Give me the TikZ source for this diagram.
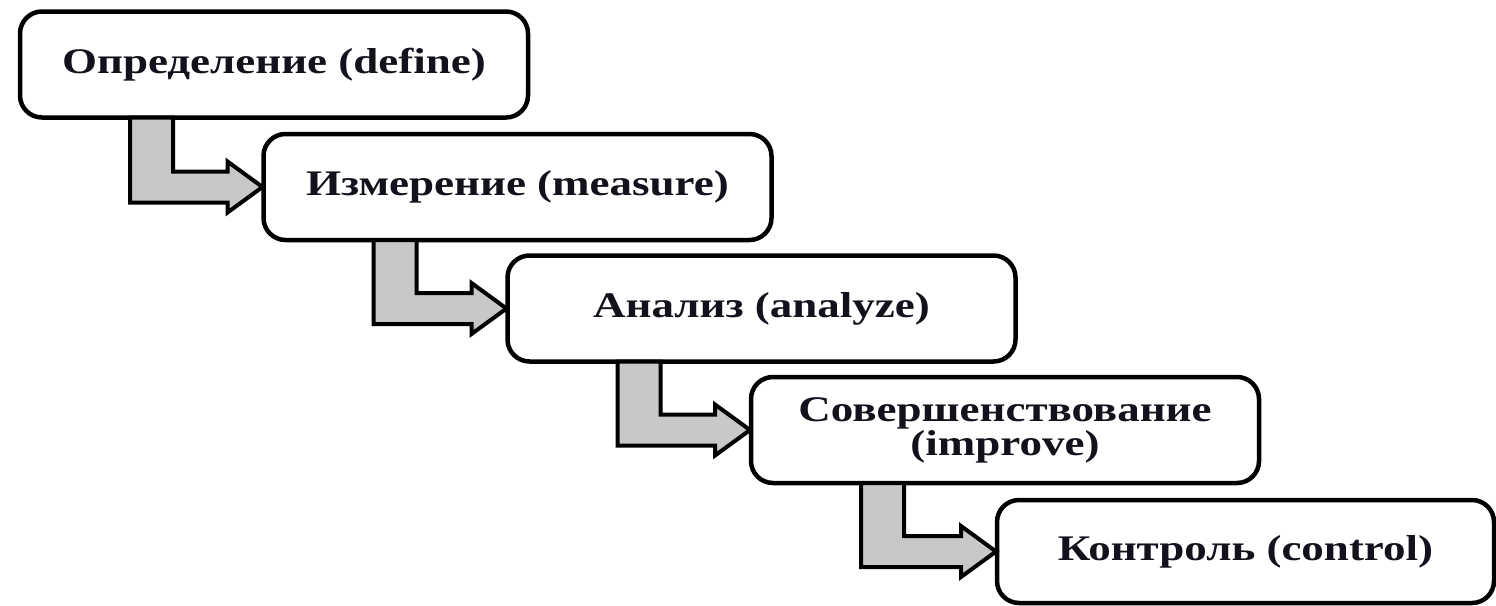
\documentclass[tikz,border=0pt]{standalone}
\usepackage{fontspec}
\setmainfont{Liberation Serif}
\usetikzlibrary{calc}
\definecolor{arrowgray}{RGB}{200,200,200}
\definecolor{textcol}{RGB}{18,18,28}
\newcommand{\widetxt}[1]{\scalebox{1.25}[1]{#1}}
\begin{document}
\begin{tikzpicture}[x=1pt,y=-1pt,
  box/.style={draw, line width=4.5pt, rounded corners=22pt, fill=white,
    minimum width=508pt, minimum height=106pt, inner sep=0pt, outer sep=0pt,
    align=center, text=textcol, font=\fontsize{36}{34}\selectfont\bfseries},
  flow/.style={draw, line width=4pt, fill=arrowgray, line join=miter}]
\useasboundingbox (0,0) rectangle (1496,605);
\node[box] (b1) at (274,64.5) {\widetxt{Определение (define)}};
\node[box] (b2) at (517.5,187) {\widetxt{Измерение (measure)}};
\node[box] (b3) at (761.5,308.5) {\widetxt{Анализ (analyze)}};
\node[box] (b4) at (1005,430) {\widetxt{Совершенствование}\\\widetxt{(improve)}};
\node[box, minimum width=497pt, minimum height=103pt] (b5) at (1245.5,551.5) {\widetxt{Контроль (control)}};
\foreach \i/\j in {1/2,2/3,3/4,4/5}{
  \draw[flow] let \p1=(b\i.south west), \p2=(b\j.west) in
    ({\x1+110pt},\y1) -- ({\x1+110pt},{\y2-15.5pt}) -- ({\x2-36pt},{\y2-15.5pt})
    -- ({\x2-36pt},{\y2-25.5pt}) -- ({\x2-1pt},\y2) -- ({\x2-36pt},{\y2+25.5pt})
    -- ({\x2-36pt},{\y2+15.5pt}) -- ({\x1+153pt},{\y2+15.5pt}) -- ({\x1+153pt},\y1) -- cycle;
}
\end{tikzpicture}
\end{document}
